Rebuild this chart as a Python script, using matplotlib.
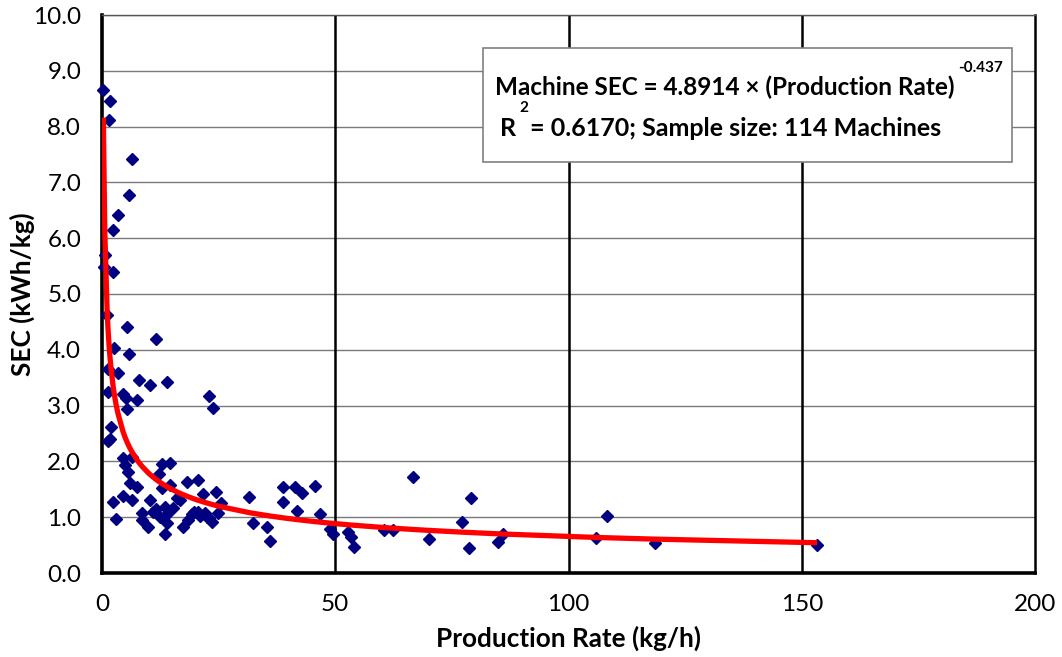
import numpy as np
import matplotlib
matplotlib.use("Agg")
import matplotlib.pyplot as plt
from matplotlib.patches import Rectangle

# ---- data ----
production_rate = [
    0.31, 1.7, 1.5, 6.4, 5.8, 3.4, 2.4, 0.6, 0.35, 2.4, 1.1, 5.4, 11.6, 2.6, 5.8,
    1.3, 3.4, 7.9, 10.3, 13.9, 1.3, 4.5, 5.2, 7.5, 5.4, 22.9, 23.8, 1.9, 1.7, 1.3,
    4.5, 6.4, 4.9, 5.6, 12.9, 14.6, 12.2, 6.0, 7.5, 14.6, 12.9, 18.2, 20.6, 4.5,
    6.4, 2.4, 10.3, 16.7, 21.6, 24.4, 25.5, 31.5, 38.8, 38.8, 41.4, 42.9, 45.7,
    41.8, 46.7, 3.0, 8.6, 8.6, 10.9, 12.4, 13.5, 13.9, 9.9, 13.4, 15.2, 18.4, 17.4,
    20.6, 22.1, 23.6, 24.9, 19.3, 21.0, 23.0, 11.5, 14.0, 16.0, 19.8, 22.6,
    32.4, 35.4, 36.0, 48.9, 49.5, 52.7, 53.4, 54.0, 60.5, 62.4, 66.7, 70.1, 77.2,
    79.1, 78.7, 84.9, 86.0, 105.9, 108.2, 118.5, 153.3,
]
machine_sec = [
    8.66, 8.46, 8.12, 7.42, 6.78, 6.42, 6.14, 5.70, 5.48, 5.40, 4.62, 4.40, 4.20, 4.04, 3.92,
    3.65, 3.58, 3.46, 3.37, 3.43, 3.24, 3.20, 3.13, 3.10, 2.94, 3.17, 2.95, 2.62, 2.40, 2.37,
    2.06, 2.08, 1.94, 1.81, 1.95, 1.98, 1.77, 1.61, 1.54, 1.58, 1.52, 1.63, 1.67, 1.38,
    1.31, 1.27, 1.31, 1.31, 1.42, 1.45, 1.25, 1.37, 1.54, 1.27, 1.54, 1.44, 1.56,
    1.11, 1.06, 0.96, 1.08, 0.95, 1.09, 1.00, 1.18, 0.90, 0.82, 0.70, 1.16, 0.95, 0.82,
    1.09, 1.07, 0.91, 1.07, 1.05, 1.02, 0.98, 1.15, 1.05, 1.35, 1.10, 1.00,
    0.90, 0.82, 0.57, 0.79, 0.70, 0.73, 0.65, 0.47, 0.77, 0.77, 1.72, 0.61, 0.91,
    1.34, 0.45, 0.56, 0.70, 0.63, 1.02, 0.54, 0.50,
]

# power-law trend stated in the chart
fit_coef = 4.8914
fit_exp = -0.437

x_ticks = [0, 50, 100, 150, 200]
y_ticks = [0, 1, 2, 3, 4, 5, 6, 7, 8, 9, 10]

FONT = "Lato"
plt.rcParams["font.family"] = [FONT, "DejaVu Sans"]

W, H = 1062, 657
fig = plt.figure(figsize=(W / 100, H / 100), dpi=100)
ax = fig.add_axes([102 / W, 1 - 573 / H, (1035 - 102) / W, (573 - 15) / H])

ax.set_xlim(0, 200)
ax.set_ylim(0, 10)

# grid
for yv in y_ticks[1:]:
    ax.axhline(yv, color="#7a7a7a", lw=1.0, zorder=1)
for xv in x_ticks[1:-1]:
    ax.axvline(xv, color="black", lw=1.8, zorder=1)

# scatter
ax.plot(production_rate, machine_sec, linestyle="none", marker="D", ms=6.2,
        color="#000080", mec="#000080", zorder=3, clip_on=False)

# trend line through sorted data x
xs = np.sort(np.unique(np.array(production_rate)))
ys = fit_coef * xs ** fit_exp
ax.plot(xs, ys, color="red", lw=3.8, zorder=4, solid_capstyle="butt")

# spines
for s in ["left", "bottom"]:
    ax.spines[s].set_linewidth(2.6)
    ax.spines[s].set_color("black")
ax.spines["right"].set_linewidth(1.8)
ax.spines["right"].set_color("black")
ax.spines["top"].set_linewidth(1.0)
ax.spines["top"].set_color("#555555")

ax.set_xticks(x_ticks)
ax.set_xticklabels([str(v) for v in x_ticks])
ax.set_yticks(y_ticks)
ax.set_yticklabels([f"{v:.1f}" for v in y_ticks])
ax.tick_params(length=0, labelsize=17.5)
ax.tick_params(axis="x", pad=15)
ax.tick_params(axis="y", pad=15)

ax.set_xlabel("Production Rate (kg/h)", fontsize=18.8, fontweight="bold")
ax.xaxis.set_label_coords(0.5, (573 - 626) / 558)
ax.set_ylabel("SEC (kWh/kg)", fontsize=18.8, fontweight="bold", va="center")
ax.yaxis.set_label_coords((22 - 102) / 933, 0.5)

# annotation box
box = Rectangle((483 / W, 1 - 162 / H), (1012 - 483) / W, (162 - 48) / H,
                transform=fig.transFigure, facecolor="white", edgecolor="#808080",
                lw=1.2, zorder=5)
fig.patches.append(box)
fig.text(495 / W, 1 - 87 / H, "Machine SEC = 4.8914 × (Production Rate)",
         fontsize=17.5, fontweight="bold", va="center", ha="left", zorder=6)
fig.text(958 / W, 1 - 68 / H, "-0.437", fontsize=11, fontweight="bold",
         va="center", ha="left", zorder=6)
fig.text(500 / W, 1 - 128 / H, "R", fontsize=18, fontweight="bold",
         va="center", ha="left", zorder=6)
fig.text(519 / W, 1 - 108 / H, "2", fontsize=11, fontweight="bold",
         va="center", ha="left", zorder=6)
fig.text(530 / W, 1 - 128 / H, "= 0.6170; Sample size: 114 Machines",
         fontsize=18, fontweight="bold", va="center", ha="left", zorder=6)

fig.savefig("out.png", dpi=100)
